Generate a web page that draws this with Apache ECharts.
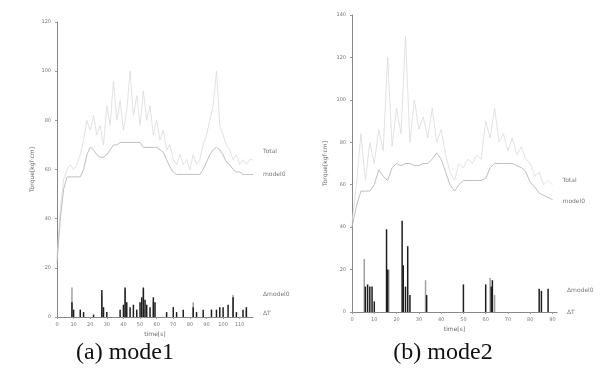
<!DOCTYPE html>
<html>
<head>
<meta charset="utf-8">
<script src="https://cdn.jsdelivr.net/npm/echarts@6/dist/echarts.min.js"></script>
<style>
  html, body {margin: 0; padding: 0; background: #fff;}
  #main {width: 609px; height: 390px;}
</style>
</head>
<body>
<div id="main"></div>
<script>
// ---- (a) mode1 ----
const xA = [0,2,4,6,8,10,12,14,16,18,20,22,24,26,28,30,32,34,36,38,40,42,44,46,48,50,52,54,56,58,
  60,62,64,66,68,70,72,74,76,78,80,82,84,86,88,90,92,94,96,98,100,102,104,106,108,110,112,114,116,118];
const totalA = [24,44,56,60,62,60,62,66,72,80,76,82,74,78,70,86,78,96,80,88,76,84,100,82,90,78,92,80,86,74,
  80,72,76,68,70,64,62,66,62,64,60,66,62,64,70,74,80,86,100,78,74,70,68,64,66,62,64,62,64,64];
const modelA = [22,40,52,57,57,57,57,57,60,66,69,68,66,65,65,66,68,70,70,71,71,71,71,71,71,71,69,69,69,69,
  69,68,67,64,61,59,58,58,58,58,58,58,58,58,60,63,66,68,69,68,66,63,62,60,59,59,58,58,58,58];
const dModelA = [[9,12],[27,9],[41,11],[52,11],[58,6],[82,6],[106,9],[114,3]];
const dTA = [[9,6],[10,3],[14,3],[16,2],[22,1],[27,11],[28,4],[30,2],[38,3],[40,5],[41,12],[42,6],[44,4],
  [46,5],[48,3],[50,6],[51,8],[52,12],[53,7],[54,5],[56,4],[58,8],[59,6],[66,2],[70,4],[72,2],[76,3],
  [82,4],[84,2],[88,3],[93,3],[96,3],[98,4],[100,4],[103,5],[106,8],[108,2],[112,3],[114,4]];

// ---- (b) mode2 ----
const xB = [0,2,4,6,8,10,12,14,16,18,20,22,24,26,28,30,32,34,36,38,40,42,44,46,48,50,52,54,56,58,
  60,62,64,66,68,70,72,74,76,78,80,82,84,86,88,90];
const totalB = [42,60,84,62,80,70,86,76,120,78,96,84,130,80,100,86,92,82,96,80,86,74,66,62,70,68,72,70,74,72,
  90,82,96,80,84,76,82,74,78,72,70,64,66,60,62,60];
const modelB = [40,50,57,57,57,60,67,64,62,68,70,69,70,70,69,69,70,70,72,75,72,66,60,57,60,62,62,62,62,62,
  63,68,70,70,70,70,70,69,68,66,61,59,56,55,54,53];
const dModelB = [[5.5,25],[16.5,20],[33,15],[62,16],[64,8]];
const dTB = [[6,12],[7,13],[8,12],[9,12],[10,5],[15.5,39],[16,20],[22.5,43],[23,22],[24,12],[25,31],[26,8],
  [33.5,8],[50,13],[60,13],[62.5,12],[63,15],[84,11],[85,10],[88,11]];

const ticksA = {max: 118, ymax: 120};
const ticksB = {max: 92, ymax: 140};
const seriesNames = ['Total', 'model0', 'Δmodel0', 'ΔT'];

const chart = echarts.init(document.getElementById('main'));
const tickFont = {fontSize: 5, color: '#777', fontFamily: 'DejaVu Sans'};
const nameFont = {fontSize: 6, color: '#666', fontFamily: 'DejaVu Sans'};

const xAxisOf = (idx, max) => ({
  type: 'value', gridIndex: idx, min: 0, max: max, interval: 10,
  name: 'time[s]', nameLocation: 'middle', nameGap: 12, nameTextStyle: nameFont,
  axisLine: {lineStyle: {color: '#888', width: 1}},
  axisTick: {show: true, length: 2, lineStyle: {color: '#999'}},
  axisLabel: {...tickFont, margin: 5, showMaxLabel: false},
  splitLine: {show: false}
});
const yAxisOf = (idx, max, gap) => ({
  type: 'value', gridIndex: idx, min: 0, max: max, interval: 20,
  name: 'Torque[kgf·cm]', nameLocation: 'middle', nameGap: gap, nameTextStyle: nameFont,
  axisLine: {show: true, lineStyle: {color: '#888', width: 1}},
  axisTick: {show: true, length: 2, lineStyle: {color: '#999'}},
  axisLabel: {...tickFont, margin: 6},
  splitLine: {show: false}
});

const endLbl = (dy) => ({
  show: true, formatter: '{a}', fontSize: 6, color: '#777', distance: 10, offset: [0, dy]
});
const sideLabel = (name, x, y) => ({
  markPoint: {
    symbolSize: 0,
    data: [{coord: [x, y], label: {show: true, position: 'right', distance: 10, formatter: name, fontSize: 6, color: '#777'}}]
  }
});

const linePair = (idx, xs, total, model, dyT, dyM) => [
  {
    name: seriesNames[0], type: 'line', xAxisIndex: idx, yAxisIndex: idx,
    data: xs.map((x, i) => [x, total[i]]), symbol: 'none',
    lineStyle: {color: '#dadada', width: 0.8}, endLabel: endLbl(dyT), z: 1
  },
  {
    name: seriesNames[1], type: 'line', xAxisIndex: idx, yAxisIndex: idx,
    data: xs.map((x, i) => [x, model[i]]), symbol: 'none',
    lineStyle: {color: '#b8b8b8', width: 0.9}, endLabel: endLbl(dyM), z: 2
  }
];
const barPair = (idx, dModel, dT, xEnd, yM, yT) => [
  {
    name: seriesNames[2], type: 'bar', xAxisIndex: idx, yAxisIndex: idx,
    data: dModel, barWidth: 1.5, itemStyle: {color: '#a0a0a0'}, z: 3,
    ...sideLabel(seriesNames[2], xEnd, yM)
  },
  {
    name: seriesNames[3], type: 'bar', xAxisIndex: idx, yAxisIndex: idx,
    data: dT, barWidth: 1.5, barGap: '-100%', itemStyle: {color: '#1e1e1e'}, z: 4,
    ...sideLabel(seriesNames[3], xEnd, yT)
  }
];

chart.setOption({
  backgroundColor: '#fff',
  animation: false,
  textStyle: {fontFamily: 'DejaVu Sans'},
  title: [
    {text: '(a) mode1', left: 120, top: 336, textAlign: 'center',
      textStyle: {fontFamily: 'Liberation Serif', fontWeight: 'normal', fontSize: 24, color: '#111'}},
    {text: '(b) mode2', left: 438, top: 336, textAlign: 'center',
      textStyle: {fontFamily: 'Liberation Serif', fontWeight: 'normal', fontSize: 24, color: '#111'}}
  ],
  grid: [
    {left: 57, top: 22, width: 196, height: 295},
    {left: 352, top: 15, width: 205, height: 297}
  ],
  xAxis: [xAxisOf(0, ticksA.max), xAxisOf(1, ticksB.max)],
  yAxis: [yAxisOf(0, ticksA.ymax, 22), yAxisOf(1, ticksB.ymax, 24)],
  series: [
    ...linePair(0, xA, totalA, modelA, -8, 0),
    ...barPair(0, dModelA, dTA, ticksA.max, 9, 1.5),
    ...linePair(1, xB, totalB, modelB, -4, 2),
    ...barPair(1, dModelB, dTB, ticksB.max, 10, 0)
  ]
});
</script>
</body>
</html>
